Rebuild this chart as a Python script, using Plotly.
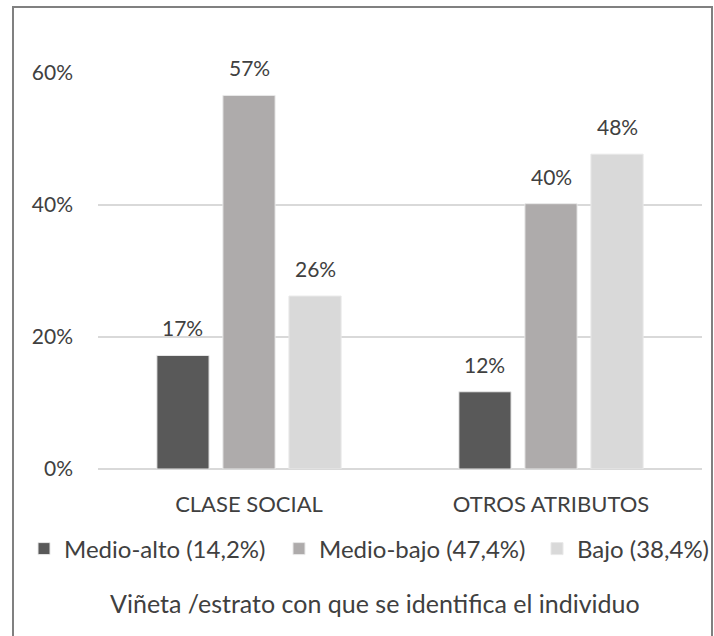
import plotly.graph_objects as go

categories = ["CLASE SOCIAL", "OTROS ATRIBUTOS"]
series_names = ["Medio-alto (14,2%)", "Medio-bajo (47,4%)", "Bajo (38,4%)"]
medio_alto = [0.172, 0.117]
medio_bajo = [0.566, 0.402]
bajo = [0.262, 0.477]
labels_ma = ["17%", "12%"]
labels_mb = ["57%", "40%"]
labels_b = ["26%", "48%"]
y_ticks = [0, 0.2, 0.4, 0.6]
y_tick_labels = ["0%", "20%", "40%", "60%"]
x_title = "Viñeta /estrato con que se identifica el individuo"

colors = ["#595959", "#AEABAB", "#D9D9D9"]
FONT = "Lato"
TXT = "#404040"

L, R, T, B = 98, 702, 73, 469
PW, PH = R - L, B - T
BARGAP = 0.344
N_SERIES = 3
SLOT_PX = PW / len(categories) * (1 - BARGAP) / N_SERIES


def px_x(p):
    return (p - L) / PW


def px_y(p):
    return (B - p) / PH


legend_text_starts = [64, 319, 577]
legend_ids = ["legend", "legend2", "legend3"]

fig = go.Figure()
annotations = []
for i, (name, vals, labs, col, lid) in enumerate(zip(
        series_names, [medio_alto, medio_bajo, bajo],
        [labels_ma, labels_mb, labels_b], colors, legend_ids)):
    fig.add_trace(go.Bar(
        x=categories, y=vals, name=name,
        marker=dict(color=col, line=dict(color="#E8E8E8", width=1)),
        legend=lid,
    ))
    for cat, v, lab in zip(categories, vals, labs):
        annotations.append(dict(
            x=cat, y=v, xref="x", yref="y", text=lab, showarrow=False,
            xanchor="center", yanchor="bottom", yshift=13,
            xshift=(i - (N_SERIES - 1) / 2) * SLOT_PX,
            font=dict(family=FONT, size=21, color=TXT)))

annotations.append(dict(text=x_title, xref="paper", yref="paper",
                        x=px_x(375), y=px_y(603), xanchor="center", yanchor="middle",
                        showarrow=False, font=dict(family=FONT, size=25, color=TXT)))

legend_common = dict(orientation="h", yanchor="middle", xanchor="left",
                     font=dict(family=FONT, size=24, color=TXT), itemwidth=30,
                     bgcolor="rgba(0,0,0,0)")
layout_legends = {}
for lid, ts in zip(legend_ids, legend_text_starts):
    layout_legends[lid] = dict(legend_common, x=px_x(ts - 40), y=px_y(549))

fig.update_layout(
    width=714, height=636,
    margin=dict(l=L, r=714 - R, t=T, b=636 - B, autoexpand=False),
    paper_bgcolor="white", plot_bgcolor="white",
    barmode="group", bargap=BARGAP, bargroupgap=0.21,
    font=dict(family=FONT, size=21, color=TXT),
    showlegend=True,
    xaxis=dict(showgrid=False, showline=False, ticks="", ticklabelstandoff=20,
               tickfont=dict(family=FONT, size=22, color=TXT)),
    yaxis=dict(range=[0, 0.6], tickvals=y_ticks, ticktext=y_tick_labels,
               showgrid=True, gridcolor="#D9D9D9", gridwidth=1.5,
               zeroline=True, zerolinecolor="#D9D9D9", zerolinewidth=1.5,
               showline=False, ticks="", ticklabelstandoff=24,
               tickfont=dict(family=FONT, size=21, color=TXT)),
    annotations=annotations,
    shapes=[dict(type="rect", xref="paper", yref="paper",
                 x0=px_x(13), x1=px_x(712),
                 y0=px_y(660), y1=px_y(7),
                 line=dict(color="#808080", width=2), fillcolor="rgba(0,0,0,0)",
                 layer="below")],
    **layout_legends,
)

fig.write_html("out.html", config={"displayModeBar": False},
               post_script="document.body.style.margin='0';")
